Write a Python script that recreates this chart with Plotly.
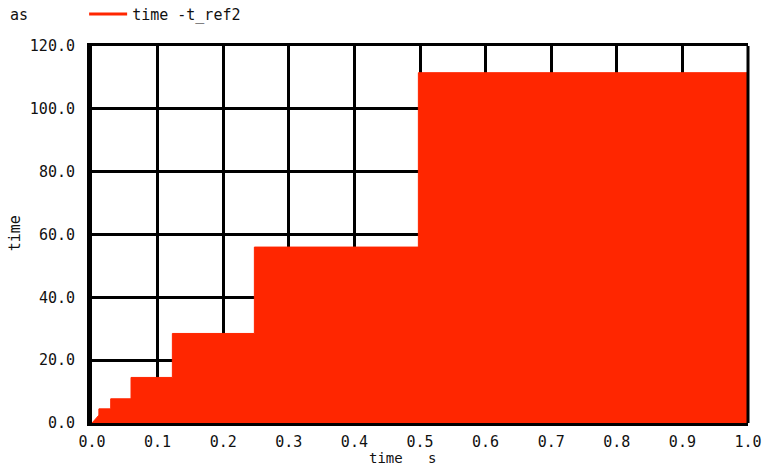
import plotly.graph_objects as go

# waveform samples of time - t_ref2 (s, value)
t = [0.0, 0.0105, 0.0105, 0.0285, 0.0285, 0.0595, 0.0595, 0.1225, 0.1225, 0.2475, 0.2475, 0.4975, 0.4975, 1.0]
v = [0.0, 2.5, 4.5, 4.5, 7.7, 7.7, 14.5, 14.5, 28.5, 28.5, 56.0, 56.0, 111.5, 111.5]

x_ticks = [0.0, 0.1, 0.2, 0.3, 0.4, 0.5, 0.6, 0.7, 0.8, 0.9, 1.0]
y_ticks = [0.0, 20.0, 40.0, 60.0, 80.0, 100.0, 120.0]

RED = "#FF2600"
FONT = dict(family="DejaVu Sans Mono", size=15, color="#111111")
XT_FONT = dict(family="DejaVu Sans Mono", size=14, color="#111111")

fig = go.Figure()
fig.add_trace(go.Scatter(x=t, y=v, mode="lines", line=dict(color=RED, width=1),
                         fill="tozeroy", fillcolor=RED, showlegend=False))
fig.add_trace(go.Scatter(x=[None], y=[None], mode="lines", line=dict(color=RED, width=3),
                         name="time -t_ref2", showlegend=True))

fig.update_layout(
    width=762, height=467,
    margin=dict(l=92, r=14, t=46, b=44, autoexpand=False),
    paper_bgcolor="white", plot_bgcolor="white",
    font=FONT,
    showlegend=True,
    legend=dict(x=-0.012, y=1.128, xanchor="left", yanchor="top", orientation="h",
                bgcolor="rgba(0,0,0,0)", font=FONT, itemwidth=38),
    xaxis=dict(range=[0, 1.0], tickvals=x_ticks, tickformat=".1f", automargin=False,
               showgrid=True, gridcolor="black", gridwidth=2.5,
               showline=True, linecolor="black", linewidth=2.5, mirror=True,
               ticks="", zeroline=False, ticklabelstandoff=3),
    yaxis=dict(range=[0, 120], tickvals=y_ticks, tickformat=".1f", automargin=False,
               showgrid=True, gridcolor="black", gridwidth=2.5,
               showline=True, linecolor="black", linewidth=5, mirror=False,
               ticks="", zeroline=False, ticklabelstandoff=9),
    shapes=[dict(type="line", xref="paper", yref="paper", x0=1, x1=1, y0=0, y1=1,
                 line=dict(color="black", width=3), layer="above")],
    annotations=[
        dict(text="as", xref="paper", yref="paper", x=-0.112, y=1.083,
             xanchor="center", yanchor="middle", showarrow=False, font=FONT),
        dict(text="time   s", xref="paper", yref="paper", x=0.473, y=-0.094,
             xanchor="center", yanchor="middle", showarrow=False, font=XT_FONT),
        dict(text="time", xref="paper", yref="paper", x=-0.117, y=0.504, textangle=-90,
             xanchor="center", yanchor="middle", showarrow=False, font=FONT),
    ],
)

fig.write_html("out.html", config={"displayModeBar": False},
               post_script="document.body.style.margin='0';document.body.style.overflow='hidden';")
